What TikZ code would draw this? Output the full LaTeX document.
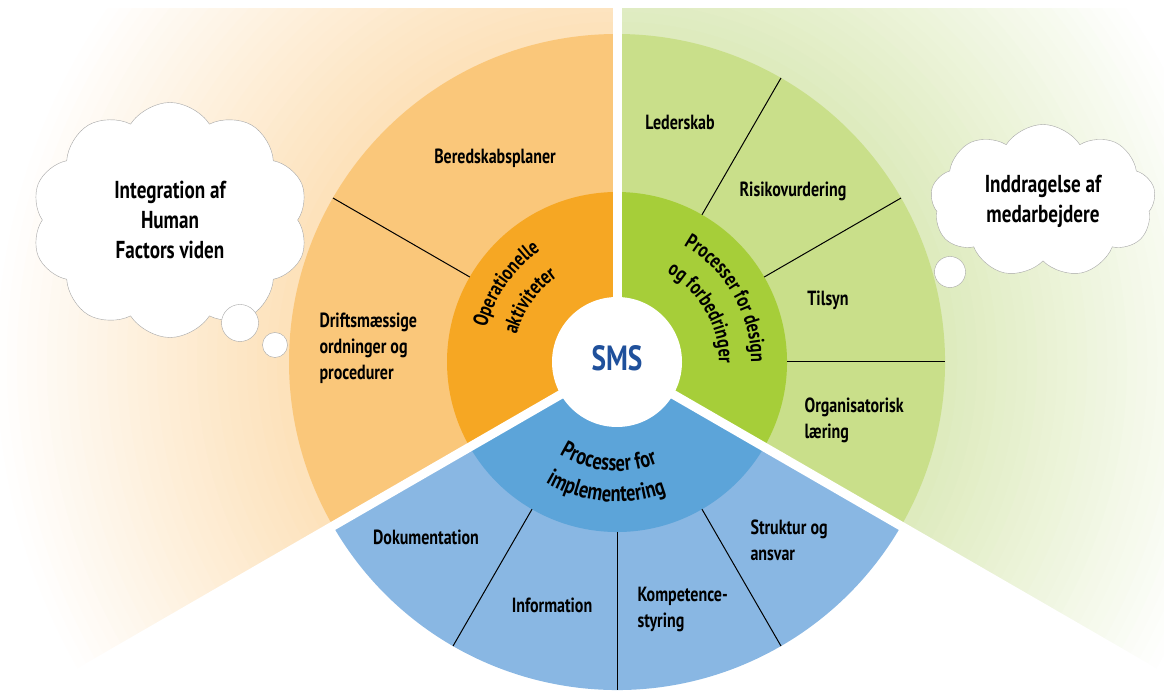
\documentclass[tikz,border=0pt]{standalone}
\usepackage{fontspec}
\setmainfont{PT Sans}[FakeStretch=0.78]
\usetikzlibrary{shapes.symbols,decorations.text}

\definecolor{opdark}{RGB}{246,167,35}
\definecolor{oplight}{RGB}{250,199,122}
\definecolor{opbg}{RGB}{253,226,187}
\definecolor{dsdark}{RGB}{166,206,57}
\definecolor{dslight}{RGB}{201,223,138}
\definecolor{dsbg}{RGB}{222,235,190}
\definecolor{imdark}{RGB}{92,164,217}
\definecolor{imlight}{RGB}{137,183,227}
\definecolor{smsblue}{RGB}{31,80,155}

\newcommand\ringfont{\bfseries\fontsize{21}{25}\selectfont}
\newcommand\ringfontbig{\bfseries\fontsize{23.5}{27}\selectfont}

\begin{document}
\begin{tikzpicture}[x=1pt,y=1pt,
	seg/.style={font=\bfseries\fontsize{20.5}{26}\selectfont},
	thought/.style={cloud,cloud puffs=10,cloud puff arc=115,cloud ignores aspect,draw=gray!70,fill=white,align=center,inner sep=0pt,font=\bfseries\fontsize{24.5}{30}\selectfont},
	bubble/.style={shape=circle,draw=gray!70,fill=white,inner sep=0pt},
	divider/.style={draw=black,line width=1pt},
	gap/.style={draw=white,line width=9pt}]
	\useasboundingbox (0,0) rectangle (1164,693);

	\begin{scope}[shift={(617,331)}]
		% faded fans behind the wheel
		\begin{scope}
			\clip (-700,-700) rectangle (700,353);
			\clip (0,0) -- (90:1000) -- (150:2000) -- (210:1000) -- cycle;
			\foreach \k in {0,...,29} {
				\pgfmathsetmacro\rr{630-10*\k}
				\pgfmathtruncatemacro\pc{100*\k/29}
				\fill[opbg!\pc!white] (0,0) circle[radius=\rr];
			}
		\end{scope}
		\begin{scope}
			\clip (-700,-700) rectangle (700,353);
			\clip (0,0) -- (90:1000) -- (30:2000) -- (-30:1000) -- cycle;
			\foreach \k in {0,...,29} {
				\pgfmathsetmacro\rr{630-10*\k}
				\pgfmathtruncatemacro\pc{100*\k/29}
				\fill[dsbg!\pc!white] (0,0) circle[radius=\rr];
			}
		\end{scope}

		% outer ring
		\fill[oplight] (0,0) -- (90:328) arc[start angle=90,end angle=210,radius=328] -- cycle;
		\fill[imlight] (0,0) -- (210:328) arc[start angle=210,end angle=330,radius=328] -- cycle;
		\fill[dslight] (0,0) -- (-30:328) arc[start angle=-30,end angle=90,radius=328] -- cycle;
		% inner ring
		\fill[opdark] (0,0) -- (90:170) arc[start angle=90,end angle=210,radius=170] -- cycle;
		\fill[imdark] (0,0) -- (210:170) arc[start angle=210,end angle=330,radius=170] -- cycle;
		\fill[dsdark] (0,0) -- (-30:170) arc[start angle=-30,end angle=90,radius=170] -- cycle;

		\foreach \a in {150,60,30,0,240,270,300}
			\draw[divider] (\a:170) -- (\a:328);
		\foreach \a in {90,210,330}
			\draw[gap] (0,0) -- (\a:800);
		\fill[white] (0,0) circle[radius=65];
		\node (sms) at (0,4)[font=\bfseries\fontsize{35}{38}\selectfont,text=smsblue] {SMS};

		% curved titles of the inner ring
		\path[decorate,decoration={text along path,text align=center,text={|\ringfont|Operationelle}}]
			(178:135) arc[start angle=178,end angle=112,radius=135];
		\path[decorate,decoration={text along path,text align=center,text={|\ringfont|aktiviteter}}]
			(178:104) arc[start angle=178,end angle=112,radius=104];
		\path[decorate,decoration={text along path,text align=center,text={|\ringfont|Processer for design}}]
			(75:134) arc[start angle=75,end angle=-15,radius=134];
		\path[decorate,decoration={text along path,text align=center,text={|\ringfont|og forbedringer}}]
			(75:102) arc[start angle=75,end angle=-15,radius=102];
		\path[decorate,decoration={text along path,text align=center,text={|\ringfontbig|Processer for}}]
			(220:109) arc[start angle=220,end angle=310,radius=109];
		\path[decorate,decoration={text along path,text align=center,text={|\ringfontbig|implementering}}]
			(220:140) arc[start angle=220,end angle=310,radius=140];
	\end{scope}

	% outer ring labels
	\node (bered) at (495,535)[seg] {Beredskabsplaner};
	\node (drift) at (316,345)[seg,anchor=west,align=left] {Driftsmæssige\\ordninger og\\procedurer};
	\node (leder) at (680,571)[seg] {Lederskab};
	\node (risiko) at (793,502)[seg] {Risikovurdering};
	\node (tilsyn) at (828,393)[seg] {Tilsyn};
	\node (laering) at (801,273)[seg,anchor=west,align=left] {Organisatorisk\\læring};
	\node (dok) at (426,156)[seg] {Dokumentation};
	\node (info) at (552,88)[seg] {Information};
	\node (komp) at (634,84)[seg,anchor=west,align=left] {Kompetence-\\styring};
	\node (struktur) at (747,153)[seg,anchor=west,align=left] {Struktur og\\ansvar};

	% thought clouds
	\node (hfcloud) at (170,473)[thought,minimum width=277pt,minimum height=235pt] {Integration af\\Human\\Factors viden};
	\node (hfbubA) at (240,370)[bubble,minimum size=37pt] {};
	\node (hfbubB) at (275,348)[bubble,minimum size=25pt] {};
	\node (medcloud) at (1043,492)[thought,cloud puffs=9,minimum width=225pt,minimum height=153pt] {Inddragelse af\\medarbejdere};
	\node (medbub) at (950,421)[bubble,minimum size=31pt] {};
\end{tikzpicture}
\end{document}
